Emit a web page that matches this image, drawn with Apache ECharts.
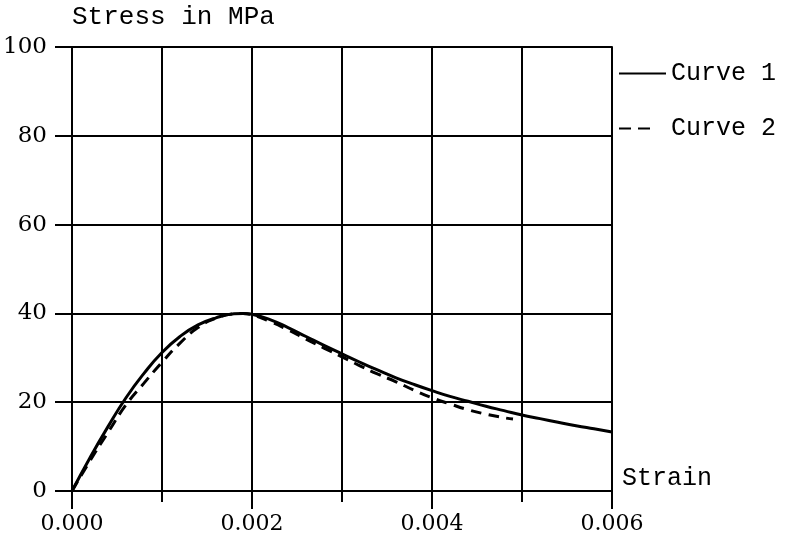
<!DOCTYPE html>
<html>
<head>
<meta charset="utf-8">
<script src="https://cdn.jsdelivr.net/npm/echarts@6/dist/echarts.min.js"></script>
<style>html,body{margin:0;padding:0;background:#fff}#c{width:792px;height:539px}</style>
</head>
<body>
<div id="c"></div>
<script>
const strain1 = [0,0.0002,0.0004,0.0006,0.0008,0.001,0.0012,0.0014,0.0016,0.0018,0.0019,0.002,0.0022,0.0024,0.0026,0.0028,0.003,0.0032,0.0034,0.0036,0.0038,0.004,0.0042,0.0044,0.0046,0.0048,0.005,0.0052,0.0054,0.0056,0.0058,0.006];
const stress1 = [0,7.5,14.5,21,26.5,31.2,34.8,37.4,39.0,39.9,40.0,39.8,38.6,36.8,34.8,32.8,30.9,29.0,27.2,25.5,24.0,22.6,21.3,20.2,19.1,18.1,17.1,16.3,15.5,14.7,14.0,13.3];
const strain2 = [0,0.0002,0.0004,0.0006,0.0008,0.001,0.0012,0.0014,0.0016,0.0018,0.0019,0.002,0.0022,0.0024,0.0026,0.0028,0.003,0.0032,0.0034,0.0036,0.0038,0.004,0.0042,0.0044,0.0046,0.0048,0.0049];
const stress2 = [0,6.8,13.2,19.4,24.3,29.0,33.3,36.8,38.9,39.9,40.0,39.7,38.2,36.3,34.2,32.2,30.2,28.2,26.3,24.6,22.7,21.0,19.6,18.3,17.3,16.5,16.2];
const seriesNames = ['Curve 1','Curve 2'];
const xTicksMajor = [0,0.002,0.004,0.006];
const yTicks = [0,20,40,60,80,100];
const xTitle = 'Strain';
const yTitle = 'Stress in MPa';

const mono = 'Liberation Mono';
const serif = 'DejaVu Serif';
const chart = echarts.init(document.getElementById('c'), null, {renderer:'canvas'});
const zip = (a,b)=>a.map((v,i)=>[v,b[i]]);
chart.setOption({
  animation:false,
  backgroundColor:'#fff',
  grid:{left:72,right:180,top:47,bottom:48,show:false},
  legend:{
    orient:'vertical', left:613, top:56, itemWidth:47, itemHeight:14, itemGap:30,
    itemStyle:{color:'rgba(0,0,0,0)',borderColor:'rgba(0,0,0,0)',borderWidth:0,opacity:0},
    textStyle:{fontFamily:mono,fontSize:25,color:'#000'},
    data:[{name:seriesNames[0]},{name:seriesNames[1],lineStyle:{type:[12,7,12,60]}}]
  },
  xAxis:[{
    type:'value', min:0, max:0.006, interval:0.002, position:'bottom',
    name:xTitle, nameLocation:'end', nameGap:10,
    nameTextStyle:{fontFamily:mono,fontSize:25,color:'#000',align:'left',verticalAlign:'bottom',padding:[0,0,0,0]},
    axisLine:{show:true,lineStyle:{color:'#000',width:2}},
    axisTick:{show:true,length:18,inside:false,lineStyle:{color:'#000',width:2}},
    axisLabel:{margin:22,fontFamily:serif,fontSize:22,color:'#000',formatter:v=>v.toFixed(3)},
    splitLine:{show:false}
  },{
    type:'value', min:0, max:0.006, interval:0.001, position:'bottom',
    axisLine:{show:false},
    axisTick:{show:true,length:11,lineStyle:{color:'#000',width:2}},
    axisLabel:{show:false},
    splitLine:{show:true,lineStyle:{color:'#000',width:2}}
  },{
    type:'value', min:0, max:0.006, position:'top',
    axisLine:{show:true,lineStyle:{color:'#000',width:2}},
    axisTick:{show:false}, axisLabel:{show:false}, splitLine:{show:false}
  }],
  yAxis:[{
    type:'value', min:0, max:100, interval:20, position:'left',
    name:yTitle, nameLocation:'end', nameGap:17,
    nameTextStyle:{fontFamily:mono,fontSize:26,color:'#000',align:'left',verticalAlign:'bottom'},
    axisLine:{show:true,lineStyle:{color:'#000',width:2}},
    axisTick:{show:true,length:17,lineStyle:{color:'#000',width:2}},
    axisLabel:{margin:25,fontFamily:serif,fontSize:23,color:'#000'},
    splitLine:{show:true,lineStyle:{color:'#000',width:2}}
  },{
    type:'value', min:0, max:100, position:'right',
    axisLine:{show:true,lineStyle:{color:'#000',width:2}},
    axisTick:{show:false}, axisLabel:{show:false}, splitLine:{show:false}
  }],
  series:[{
    name:seriesNames[0], type:'line', xAxisIndex:0, yAxisIndex:0, smooth:true, symbol:'none',
    lineStyle:{color:'#000',width:3}, itemStyle:{color:'#000'},
    data:zip(strain1,stress1), z:5
  },{
    name:seriesNames[1], type:'line', xAxisIndex:0, yAxisIndex:0, smooth:true, symbol:'none',
    lineStyle:{color:'#000',width:3,type:[11,7]}, itemStyle:{color:'#000'},
    data:zip(strain2,stress2), z:4
  }]
});
</script>
</body>
</html>
